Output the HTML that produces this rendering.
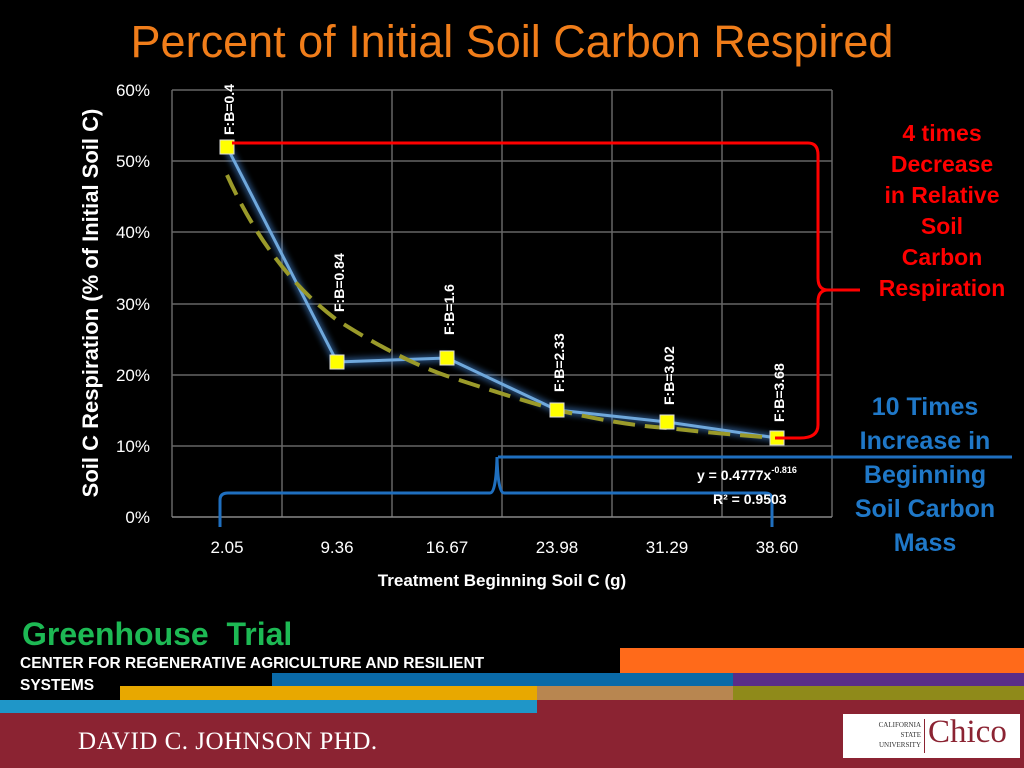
<!DOCTYPE html>
<html><head><style>
body{margin:0;width:1024px;height:768px;background:#000;overflow:hidden;position:relative;font-family:"Liberation Sans",sans-serif}
.a{position:absolute}
</style></head><body>
<div class="a" style="left:0;top:16px;width:1024px;text-align:center;color:#f07d1a;font-size:45px">Percent of Initial Soil Carbon Respired</div>
<svg class="a" style="left:0;top:0" width="1024" height="768">
<defs><filter id="g"><feGaussianBlur stdDeviation="3"/></filter></defs>
<g stroke="#666" stroke-width="1.5">
<line x1="172" y1="90" x2="832" y2="90"/><line x1="172" y1="161" x2="832" y2="161"/><line x1="172" y1="232" x2="832" y2="232"/><line x1="172" y1="304" x2="832" y2="304"/><line x1="172" y1="375" x2="832" y2="375"/><line x1="172" y1="446" x2="832" y2="446"/>
<line x1="172" y1="90" x2="172" y2="517"/><line x1="282" y1="90" x2="282" y2="517"/><line x1="392" y1="90" x2="392" y2="517"/><line x1="502" y1="90" x2="502" y2="517"/><line x1="612" y1="90" x2="612" y2="517"/><line x1="722" y1="90" x2="722" y2="517"/><line x1="832" y1="90" x2="832" y2="517"/>
</g>
<line x1="172" y1="517" x2="832" y2="517" stroke="#888" stroke-width="1.5"/>
<g font-size="17" fill="#fff" text-anchor="end"><text x="150" y="96">60%</text><text x="150" y="167">50%</text><text x="150" y="238">40%</text><text x="150" y="310">30%</text><text x="150" y="381">20%</text><text x="150" y="452">10%</text><text x="150" y="523">0%</text></g>
<g font-size="17" fill="#fff" text-anchor="middle"><text x="227" y="553">2.05</text><text x="337" y="553">9.36</text><text x="447" y="553">16.67</text><text x="557" y="553">23.98</text><text x="667" y="553">31.29</text><text x="777" y="553">38.60</text></g>
<text x="502" y="586" font-size="17" font-weight="bold" fill="#fff" text-anchor="middle">Treatment Beginning Soil C (g)</text>
<text transform="translate(98,303) rotate(-90)" font-size="22" font-weight="bold" fill="#fff" text-anchor="middle">Soil C Respiration  (% of Initial Soil C)</text>
<polyline points="227,147 337,362 447,358 557,410 667,422 777,438" fill="none" stroke="#4a90e2" stroke-width="8" opacity="0.5" filter="url(#g)"/>
<polyline points="227,147 337,362 447,358 557,410 667,422 777,438" fill="none" stroke="#6fa8dc" stroke-width="3"/>
<path d="M227,175 Q270,270 337,320 Q400,360 447,376 Q520,400 557,410 Q620,425 667,428 Q720,434 777,438" fill="none" stroke="#9a9a2a" stroke-width="4" stroke-dasharray="22,10"/>
<g fill="#ffff00" stroke="#ddd" stroke-width="1"><rect x="220" y="140" width="14" height="14"/><rect x="330" y="355" width="14" height="14"/><rect x="440" y="351" width="14" height="14"/><rect x="550" y="403" width="14" height="14"/><rect x="660" y="415" width="14" height="14"/><rect x="770" y="431" width="14" height="14"/></g>
<g font-size="14" font-weight="bold" fill="#fff"><text transform="translate(234,135) rotate(-90)">F:B=0.4</text><text transform="translate(344,312) rotate(-90)">F:B=0.84</text><text transform="translate(454,335) rotate(-90)">F:B=1.6</text><text transform="translate(564,392) rotate(-90)">F:B=2.33</text><text transform="translate(674,405) rotate(-90)">F:B=3.02</text><text transform="translate(784,422) rotate(-90)">F:B=3.68</text></g>
<path d="M232,143 H808 Q818,143 818,155 V278 Q818,290 828,290 H860 M828,290 Q818,290 818,302 V425 Q818,438 800,438 H775" fill="none" stroke="#f00" stroke-width="3"/>
<path d="M498,457 H1012" stroke="#1f6fbf" stroke-width="3"/>
<path d="M220,527 V500 Q220,493 228,493 H490 Q496,493 497,457 Q498,493 504,493 H765 Q772,493 772,500 V527" fill="none" stroke="#1f6fbf" stroke-width="3"/>
<text x="697" y="480" font-size="14" font-weight="bold" fill="#fff">y = 0.4777x<tspan font-size="9" dy="-7">-0.816</tspan></text>
<text x="713" y="504" font-size="14" font-weight="bold" fill="#fff">R² = 0.9503</text>
<g font-size="23" font-weight="bold" fill="#f00" text-anchor="middle"><text x="942" y="141">4 times</text><text x="942" y="172">Decrease</text><text x="942" y="203">in Relative</text><text x="942" y="234">Soil</text><text x="942" y="265">Carbon</text><text x="942" y="296">Respiration</text></g>
<g font-size="25" font-weight="bold" fill="#1f78c8" text-anchor="middle"><text x="925" y="415">10 Times</text><text x="925" y="449">Increase in</text><text x="925" y="483">Beginning</text><text x="925" y="517">Soil Carbon</text><text x="925" y="551">Mass</text></g>
</svg>
<div class="a" style="left:22px;top:616px;color:#1db954;font-size:32px;font-weight:bold">Greenhouse&nbsp; Trial</div>
<div class="a" style="left:20px;top:653px;color:#fff;font-size:15.5px;font-weight:bold;line-height:22px">CENTER FOR REGENERATIVE AGRICULTURE AND RESILIENT<br>SYSTEMS</div>
<div class="a" style="left:620px;top:648px;width:404px;height:25px;background:#ff6a1a"></div>
<div class="a" style="left:272px;top:673px;width:461px;height:13px;background:#0a6aa8"></div>
<div class="a" style="left:733px;top:673px;width:291px;height:13px;background:#5a2d88"></div>
<div class="a" style="left:120px;top:686px;width:417px;height:14px;background:#e8a800"></div>
<div class="a" style="left:537px;top:686px;width:196px;height:14px;background:#b88650"></div>
<div class="a" style="left:733px;top:686px;width:291px;height:14px;background:#8f8a1a"></div>
<div class="a" style="left:0;top:700px;width:537px;height:13px;background:#1f96c8"></div>
<div class="a" style="left:537px;top:700px;width:487px;height:13px;background:#8b2332"></div>
<div class="a" style="left:0;top:713px;width:1024px;height:55px;background:#8b2332"></div>
<div class="a" style="left:78px;top:728px;color:#fff;font-family:'Liberation Serif',serif;font-size:25px;letter-spacing:0.5px">DAVID C. JOHNSON PHD.</div>
<div class="a" style="left:843px;top:714px;width:177px;height:44px;background:#fff"></div>
<div class="a" style="left:853px;top:720px;width:68px;font-family:'Liberation Serif',serif;font-size:7px;line-height:10px;text-align:right;color:#333">CALIFORNIA<br>STATE<br>UNIVERSITY</div>
<div class="a" style="left:924px;top:719px;width:1px;height:34px;background:#8b2332"></div>
<div class="a" style="left:928px;top:714px;font-family:'Liberation Serif',serif;font-size:33px;color:#8b2332">Chico</div>
</body></html>
